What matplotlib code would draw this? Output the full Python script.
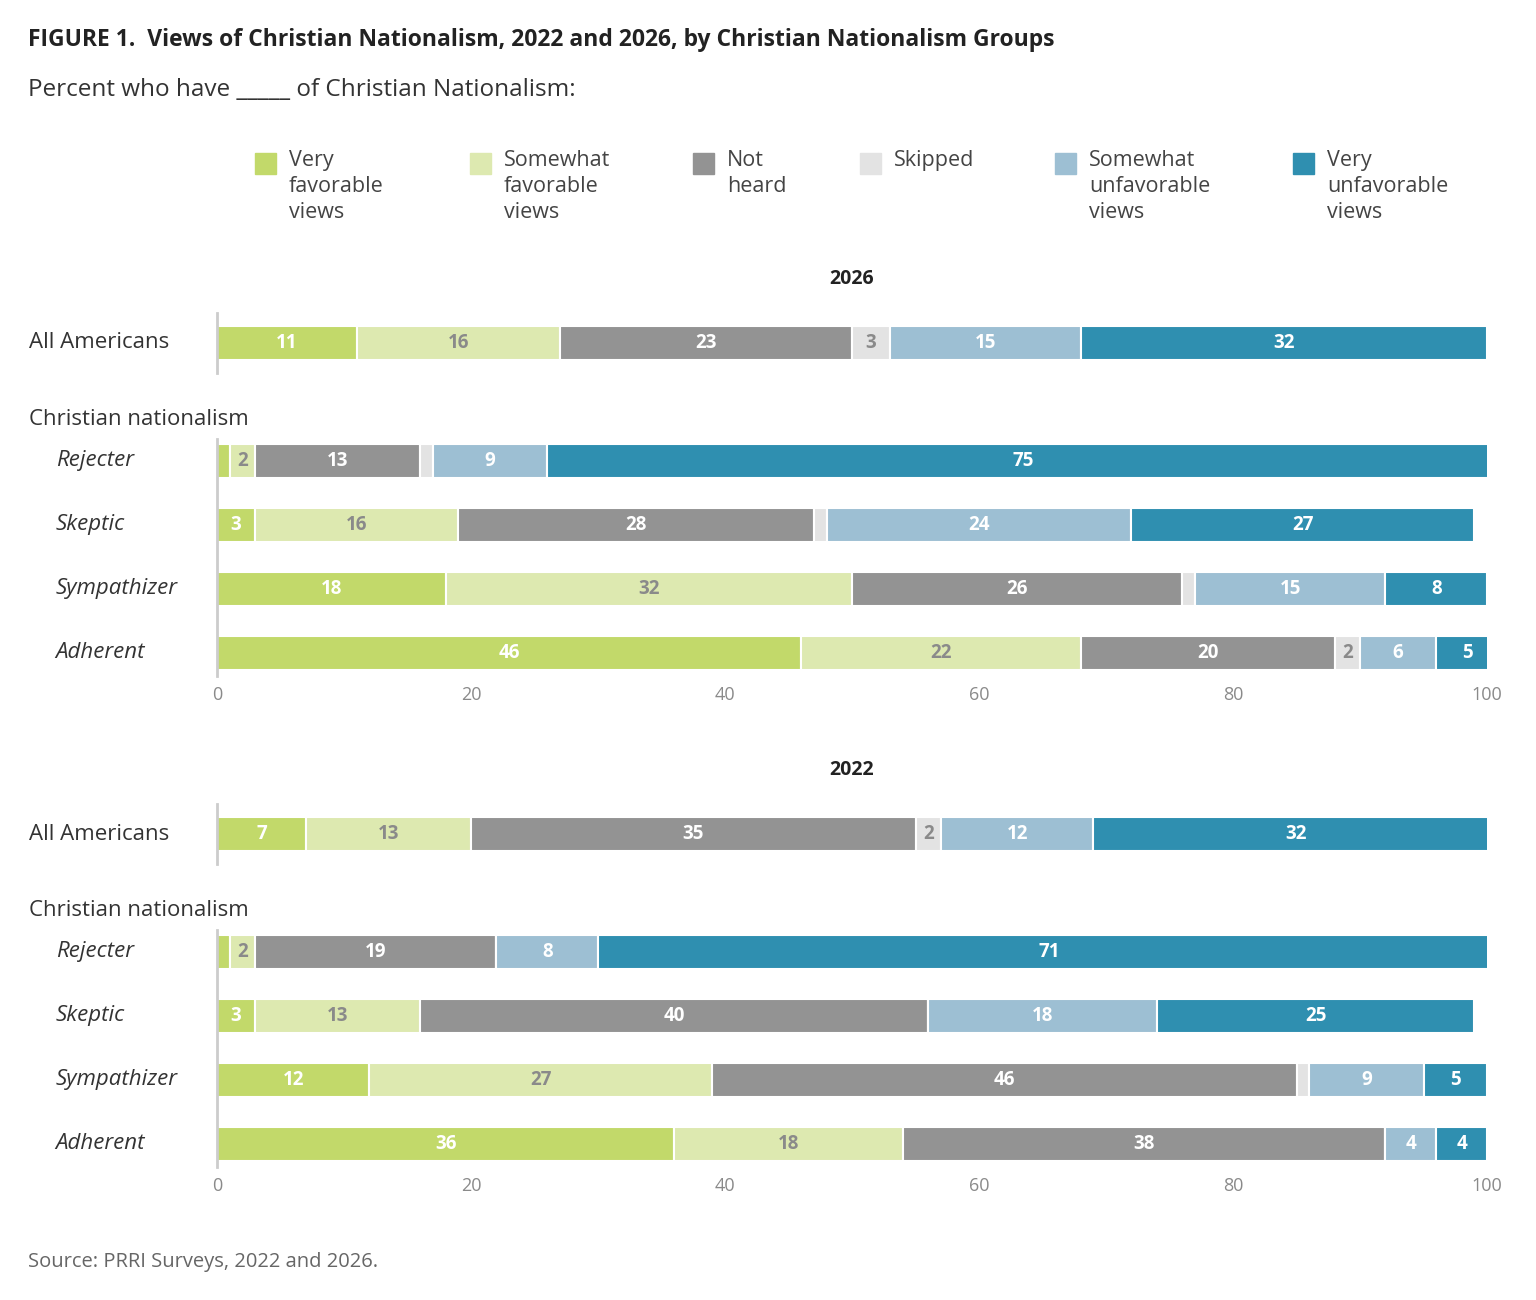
import matplotlib.pyplot as plt
import numpy as np

plt.rcParams['font.family'] = ['Open Sans', 'DejaVu Sans']

categories = ['Very\nfavorable\nviews', 'Somewhat\nfavorable\nviews', 'Not\nheard', 'Skipped',
              'Somewhat\nunfavorable\nviews', 'Very\nunfavorable\nviews']
colors = ['#c2d96a', '#dde9b0', '#939393', '#e3e3e3', '#9dbfd3', '#2f8fb0']
label_colors = ['white', '#8a8a8a', 'white', '#8a8a8a', 'white', 'white']
groups = ['All Americans', 'Rejecter', 'Skeptic', 'Sympathizer', 'Adherent']

data_2026 = [
    [11, 16, 23, 3, 15, 32],
    [1, 2, 13, 1, 9, 75],
    [3, 16, 28, 1, 24, 27],
    [18, 32, 26, 1, 15, 8],
    [46, 22, 20, 2, 6, 5],
]
data_2022 = [
    [7, 13, 35, 2, 12, 32],
    [1, 2, 19, 0, 8, 71],
    [3, 13, 40, 0, 18, 25],
    [12, 27, 46, 1, 9, 5],
    [36, 18, 38, 0, 4, 4],
]

W, H = 1536, 1300
fig = plt.figure(figsize=(W / 100, H / 100), dpi=100)

fig.text(28 / W, 1 - 40 / H, 'FIGURE 1.  Views of Christian Nationalism, 2022 and 2026, by Christian Nationalism Groups',
         fontsize=16.5, fontweight='bold', color='#222222', va='center')
fig.text(28 / W, 1 - 90 / H, 'Percent who have _____ of Christian Nationalism:', fontsize=17.5,
         color='#333333', va='center')

# legend
leg_x = [255, 470, 693, 860, 1055, 1293]
for x, c, lab in zip(leg_x, colors, categories):
    fig.patches.append(plt.Rectangle((x / W, 1 - 174 / H), 21 / W, 21 / H, transform=fig.transFigure,
                                     color=c))
    fig.text((x + 34) / W, 1 - 150 / H, lab, fontsize=15.5, color='#444444', va='top', linespacing=1.3)

rows = np.array([0, 1.84, 2.84, 3.84, 4.84])
row_px = 64


def panel(top_px, data, title):
    # axes spans from top_px to top_px+370 pixels, first row 33 px below top
    ax = fig.add_axes([217 / W, 1 - (top_px + 370) / H, 1270 / W, 370 / H])
    ax.set_xlim(0, 100)
    ax.set_ylim((370 - 33) / row_px, -33 / row_px)
    ax.set_facecolor('none')
    for s in ax.spines.values():
        s.set_visible(False)
    ax.set_yticks([])
    ax.set_xticks([0, 20, 40, 60, 80, 100])
    ax.tick_params(axis='x', length=0, labelsize=13, labelcolor='#8a8a8a', pad=4)
    vals = np.array(data, dtype=float)
    left = np.zeros(len(vals))
    for j in range(vals.shape[1]):
        ax.barh(rows, vals[:, j], left=left, height=0.53, color=colors[j], edgecolor='white', linewidth=1.5)
        for i, v in enumerate(vals[:, j]):
            if v >= 2:
                ax.text(left[i] + v / 2, rows[i], f'{int(v)}', ha='center', va='center', fontsize=13.5,
                        fontweight='bold', color=label_colors[j])
        left += vals[:, j]
    # left axis line segments
    ax.plot([0, 0], [-0.47, 0.47], color='#cccccc', lw=2, clip_on=False)
    ax.plot([0, 0], [1.5, 5.2], color='#cccccc', lw=2, clip_on=False)
    ax.text(50, -1.0, title, ha='center', va='center', fontsize=14, fontweight='bold', color='#222222')
    ax.text(-0.148 * 100 / 0.827 * 0.827, rows[0], groups[0], ha='left', va='center', fontsize=16,
            color='#333333', transform=ax.transData)
    ax.text(-14.8, 1.2, 'Christian nationalism', ha='left', va='center', fontsize=16, color='#333333')
    for r, g in zip(rows[1:], groups[1:]):
        ax.text(-12.7, r, g, ha='left', va='center', fontsize=16, style='italic', color='#333333')
    return ax


panel(310, data_2026, '2026')
panel(801, data_2022, '2022')

fig.text(28 / W, 1 - 1262 / H, 'Source: PRRI Surveys, 2022 and 2026.', fontsize=14.5, color='#666666',
         va='center')

fig.savefig('out.png', dpi=100)
